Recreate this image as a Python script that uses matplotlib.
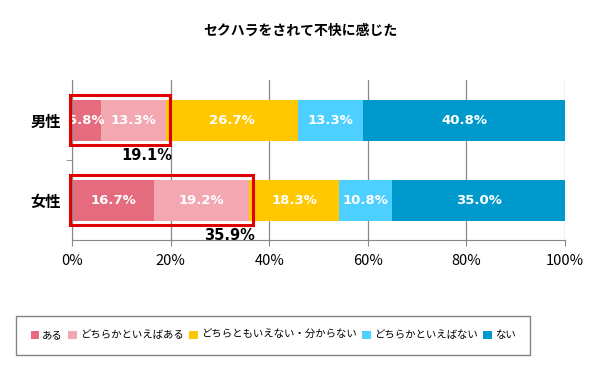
import numpy as np
import matplotlib
matplotlib.use('Agg')
import matplotlib.pyplot as plt
from matplotlib.patches import Rectangle

plt.rcParams['font.family'] = ['Noto Sans CJK JP', 'DejaVu Sans']

groups = ['男性', '女性']
labels = ['ある', 'どちらかといえばある', 'どちらともいえない・分からない', 'どちらかといえばない', 'ない']
colors = ['#E46C7E', '#F2A7B1', '#FFC800', '#4DCFFF', '#0099CC']
values = [
    [5.8, 13.3, 26.7, 13.3, 40.8],
    [16.7, 19.2, 18.3, 10.8, 35.0],
]
totals = ['19.1%', '35.9%']

fig = plt.figure(figsize=(6, 3.8), dpi=100)
ax = fig.add_axes([0.12, 0.368, 0.8217, 0.421])

y = np.arange(len(groups))
left = np.zeros(len(groups))
for j, lab in enumerate(labels):
    v = np.array([row[j] for row in values])
    ax.barh(y, v, left=left, height=0.51, color=colors[j], label=lab, zorder=2)
    for i in range(len(groups)):
        ax.text(left[i] + v[i] / 2, y[i], '%.1f%%' % v[i], ha='center', va='center',
                color='white', fontsize=9.5, fontweight='bold', family='DejaVu Sans', zorder=3)
    left += v

# red boxes around "ある" + "どちらかといえばある"
for i in range(len(groups)):
    s = values[i][0] + values[i][1]
    ax.add_patch(Rectangle((-0.4, y[i] - 0.31), s + 1.2, 0.62, fill=False,
                           edgecolor='#E00000', linewidth=2.2, clip_on=False, zorder=4))
    ax.text(s - 4.0, y[i] + 0.44, totals[i], ha='center', va='center',
            fontsize=10.5, fontweight='bold', family='DejaVu Sans', zorder=4)

ax.set_xlim(0, 100)
ax.set_ylim(1.5, -0.5)
ax.set_yticks(y)
ax.set_yticklabels(groups, fontsize=11, fontweight='bold')
ax.set_yticks([0.5], minor=True)
ax.tick_params(axis='y', which='major', length=0, pad=8)
ax.tick_params(axis='y', which='minor', length=4, color='#888888')
ax.set_xticks(np.arange(0, 101, 20))
ax.set_xticklabels(['%d%%' % t for t in range(0, 101, 20)], fontsize=10.5)
ax.tick_params(axis='x', length=4, color='#888888', pad=6)
ax.grid(axis='x', color='#888888', linewidth=0.9, zorder=0)
for s in ['top', 'right']:
    ax.spines[s].set_visible(False)
ax.spines['left'].set_color('#888888')
ax.spines['bottom'].set_color('#888888')

fig.text(0.5, 0.92, 'セクハラをされて不快に感じた', ha='center', va='center',
         fontsize=10, fontweight='bold')

leg = fig.legend(loc='center', bbox_to_anchor=(0.455, 0.118), ncol=5, frameon=True,
                 fancybox=False, edgecolor='#666666', fontsize=7.5,
                 handlelength=0.8, handleheight=0.8, handletextpad=0.3, columnspacing=0.55,
                 borderpad=1.4, borderaxespad=0)
leg.get_frame().set_linewidth(1.0)

plt.savefig('out.png', dpi=100)
